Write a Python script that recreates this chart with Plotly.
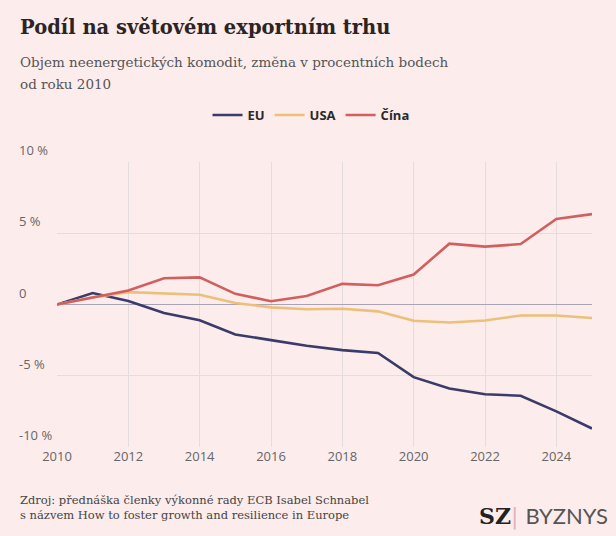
import plotly.graph_objects as go

# Data (change in percentage points since 2010)
years = list(range(2010, 2026))
eu = [0, 0.8, 0.25, -0.6, -1.1, -2.1, -2.5, -2.9, -3.2, -3.4, -5.1, -5.9, -6.3, -6.4, -7.5, -8.7]
usa = [0, 0.5, 0.87, 0.8, 0.68, 0.1, -0.2, -0.33, -0.3, -0.48, -1.14, -1.26, -1.12, -0.77, -0.77, -0.95]
cina = [0, 0.5, 0.98, 1.84, 1.9, 0.75, 0.23, 0.6, 1.45, 1.35, 2.1, 4.27, 4.06, 4.24, 6.0, 6.34]

series_names = ["EU", "USA", "Čína"]
colors = ["#3a3b6b", "#ecc07a", "#d0605f"]

ytick_vals = [10, 5, 0, -5, -10]
ytick_text = ["10 %", "5 %", "0", "-5 %", "-10 %"]
xtick_vals = [2010, 2012, 2014, 2016, 2018, 2020, 2022, 2024]

bg = "#fcecec"
sans = "Open Sans"
serif = "DejaVu Serif"

# plot box in pixels
L, R, T, B = 57, 24, 162, 89
W, H = 616, 536
pw, ph = W - L - R, H - T - B


def px(x):
    return (x - L) / pw


def py(y):
    return (H - B - y) / ph


fig = go.Figure()
for name, vals, col in zip(series_names, [eu, usa, cina], colors):
    fig.add_trace(go.Scatter(x=years, y=vals, name=name, mode="lines",
                             line=dict(color=col, width=2.6)))

fig.update_layout(
    width=W, height=H,
    paper_bgcolor=bg, plot_bgcolor=bg,
    margin=dict(l=L, r=R, t=T, b=B),
    showlegend=True,
    legend=dict(orientation="h", x=px(311), y=py(115), xanchor="center", yanchor="middle",
                font=dict(family=sans, size=13, color="#2a2a2a", weight="bold"),
                itemwidth=30, bgcolor="rgba(0,0,0,0)"),
)

fig.update_xaxes(range=[2010, 2025], tickvals=xtick_vals, showgrid=True,
                 gridcolor="#e6dcdd", gridwidth=1, zeroline=False, showline=False,
                 ticks="", tickfont=dict(family=sans, size=13, color="#666"))
fig.update_yaxes(range=[-10, 10], tickvals=ytick_vals, showticklabels=False,
                 showgrid=True, gridcolor="#e6dcdd", gridwidth=1,
                 zeroline=True, zerolinecolor="#a9a3b6", zerolinewidth=1.3, showline=False)

# y labels sit above the gridlines, left aligned
for v, t in zip(ytick_vals, ytick_text):
    fig.add_annotation(x=px(17), xref="paper", y=v, yref="y", text=t, showarrow=False,
                       xanchor="left", yanchor="bottom", yshift=1,
                       font=dict(family=sans, size=13, color="#666"))

# title + subtitle
fig.add_annotation(x=px(18), xref="paper", y=py(27), yref="paper", xanchor="left",
                   yanchor="middle", showarrow=False,
                   text="<b>Podíl na světovém exportním trhu</b>",
                   font=dict(family=serif, size=19.5, color="#2b2424"))
fig.add_annotation(x=px(18), xref="paper", y=py(62), yref="paper", xanchor="left",
                   yanchor="middle", showarrow=False,
                   text="Objem neenergetických komodit, změna v procentních bodech",
                   font=dict(family=serif, size=13.5, color="#555"))
fig.add_annotation(x=px(18), xref="paper", y=py(84), yref="paper", xanchor="left",
                   yanchor="middle", showarrow=False,
                   text="od roku 2010", font=dict(family=serif, size=13.5, color="#555"))

# source + logo
fig.add_annotation(x=px(18), xref="paper", y=py(491), yref="paper", xanchor="left", yanchor="top",
                   showarrow=False, align="left",
                   text="Zdroj: přednáška členky výkonné rady ECB Isabel Schnabel<br>"
                        "s názvem How to foster growth and resilience in Europe",
                   font=dict(family=serif, size=11.5, color="#444"))
fig.add_annotation(x=px(610), xref="paper", y=py(516), yref="paper", xanchor="right", yanchor="middle",
                   showarrow=False,
                   text="<b>SZ</b><span style='color:#e2b3bb'>|</span> <span style='font-family:Lato;color:#555'>BYZNYS</span>",
                   font=dict(family=serif, size=22, color="#222"))

fig.write_html("out.html", config={"displayModeBar": False},
               post_script="document.body.style.margin='0';")
